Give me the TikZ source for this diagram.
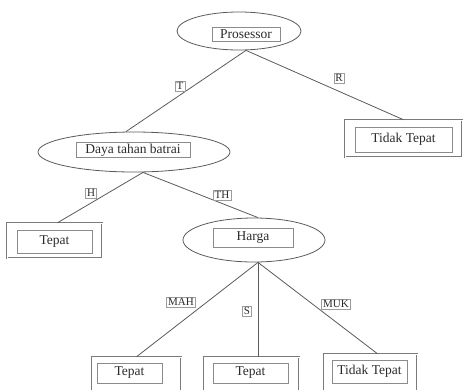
\documentclass[tikz,border=0pt]{standalone}
\usepackage{fontspec}
\setmainfont{Liberation Serif}
\usetikzlibrary{shapes.geometric}
\definecolor{ln}{HTML}{5A5A5A}
\definecolor{tx}{HTML}{2A2A2A}
\begin{document}
\begin{tikzpicture}[x=1pt,y=-1pt,
  ell/.style={draw=ln,line width=0.8pt,ellipse,inner sep=0pt},
  tbox/.style={draw=ln!70,line width=0.5pt,inner sep=0pt,text=tx,font=\fontsize{13.5}{15}\selectfont},
  obox/.style={draw=ln!80,double=white,double distance=0.9pt,line width=0.5pt,inner sep=0pt},
  lab/.style={draw=ln!60,line width=0.4pt,inner sep=1.5pt,text=tx,font=\fontsize{11}{12}\selectfont},
  edge/.style={draw=ln,line width=0.8pt}]
\useasboundingbox (0,0) rectangle (463,389);
\clip (0,0) rectangle (463,389);
% ellipses
\node[ell,minimum width=124pt,minimum height=38pt] (proc) at (239,31) {};
\node[tbox,minimum width=68pt,minimum height=14pt] (proct) at (246,34) {Prosessor};
\node[ell,minimum width=192pt,minimum height=40pt] (daya) at (134,152) {};
\node[tbox,minimum width=114pt,minimum height=15pt] (dayat) at (133,150) {Daya tahan batrai};
\node[ell,minimum width=142pt,minimum height=44pt] (harga) at (254,240) {};
\node[tbox,minimum width=80pt,minimum height=19pt] (hargat) at (253,238) {Harga};
% leaf boxes
\node[obox,minimum width=117pt,minimum height=37pt] (tt1) at (403.5,138.5) {};
\node[tbox,minimum width=97pt,minimum height=25pt] (tt1t) at (403.5,139.5) {Tidak Tepat};
\node[obox,minimum width=95pt,minimum height=35pt] (tp1) at (54.5,240.5) {};
\node[tbox,minimum width=75pt,minimum height=23pt] (tp1t) at (54.5,241.5) {Tepat};
\node[obox,minimum width=89pt,minimum height=36pt] (tp2) at (136.5,375) {};
\node[tbox,minimum width=65pt,minimum height=20pt] (tp2t) at (129.5,373) {Tepat};
\node[obox,minimum width=95pt,minimum height=36pt] (tp3) at (251.5,375) {};
\node[tbox,minimum width=75pt,minimum height=20pt] (tp3t) at (250.5,373) {Tepat};
\node[obox,minimum width=93pt,minimum height=38pt] (tt2) at (370.5,373) {};
\node[tbox,minimum width=75pt,minimum height=23pt] (tt2t) at (369.5,371.5) {Tidak Tepat};
% connectors
\draw[edge] ([xshift=7pt]proc.south) -- ([xshift=-8pt]daya.north);
\draw[edge] ([xshift=7pt]proc.south) -- (tt1.north);
\draw[edge] ([xshift=9pt]daya.south) -- ([xshift=3pt]tp1.north);
\draw[edge] ([xshift=9pt]daya.south) -- ([xshift=4pt]harga.north);
\draw[edge] ([xshift=4pt]harga.south) -- (tp2.north);
\draw[edge] ([xshift=4pt]harga.south) -- ([xshift=4pt]harga.south |- tp3.north);
\draw[edge] ([xshift=4pt]harga.south) -- ([xshift=7pt]tt2.north);
% labels
\node[lab] (lT) at (180,86) {T};
\node[lab] (lR) at (339,78) {R};
\node[lab] (lH) at (91,193) {H};
\node[lab] (lTH) at (222,195) {TH};
\node[lab] (lMAH) at (181,302) {MAH};
\node[lab] (lS) at (247,311) {S};
\node[lab] (lMUK) at (336,304) {MUK};
\end{tikzpicture}
\end{document}
